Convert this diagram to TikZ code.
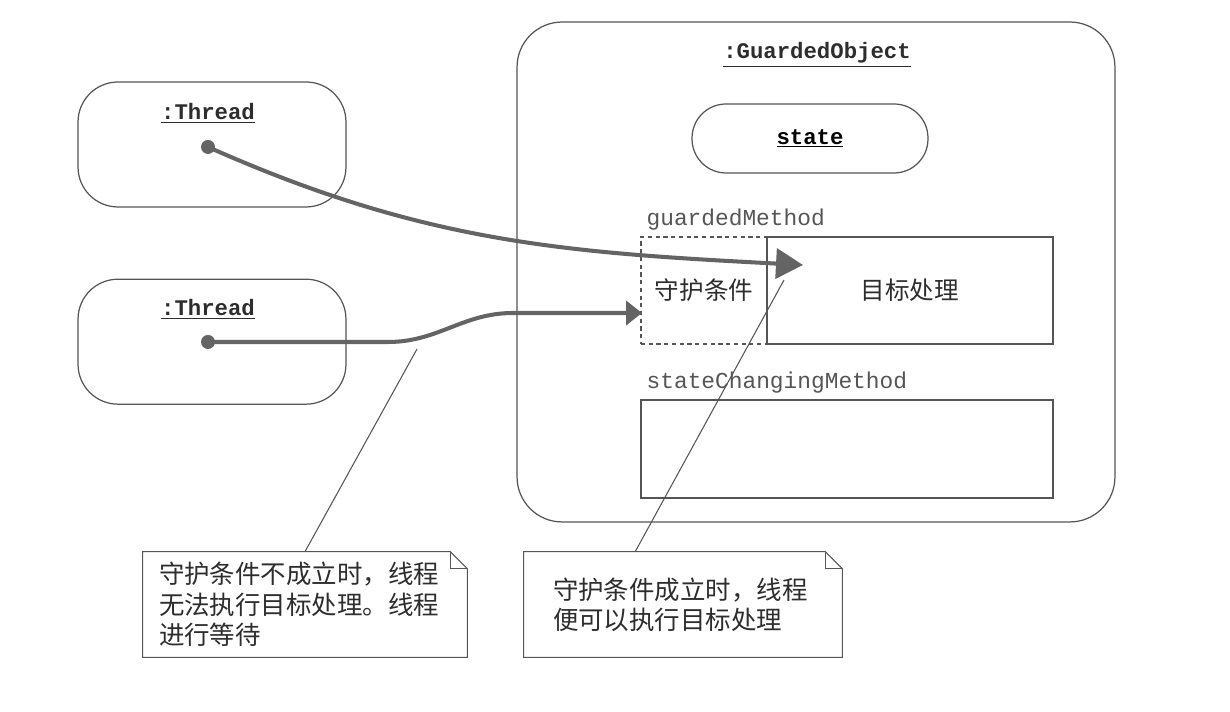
\documentclass[tikz,border=0pt]{standalone}
\usepackage{fontspec}
\setmonofont{Liberation Mono}
\newfontfamily\cjkfont{Noto Sans CJK SC}
\usepackage{tikz}
\usetikzlibrary{arrows.meta, positioning, calc}
\definecolor{linegray}{RGB}{85,85,85}
\definecolor{arrowgray}{RGB}{100,100,100}
\definecolor{textgray}{RGB}{45,45,45}
\newcommand{\namefont}{\ttfamily\bfseries\fontsize{12.7}{15}\selectfont}
\newcommand{\methodfont}{\ttfamily\fontsize{13}{15}\selectfont}
\newcommand{\cjklabelfont}{\cjkfont\fontsize{14}{16}\selectfont}
\newcommand{\cjknotefont}{\cjkfont\fontsize{14.5}{17.2}\selectfont}
\tikzstyle{object} = [rectangle, rounded corners=0.8cm, minimum width=5.36cm, minimum height=2.5cm, draw=linegray, line width=0.7pt]
\tikzstyle{objname} = [font=\namefont, text=textgray]
\tikzstyle{method} = [rectangle, draw=linegray, line width=0.7pt, font=\cjklabelfont, text=textgray]
\tikzstyle{guard} = [method, dash pattern=on 2.4pt off 2pt]
\tikzstyle{methodname} = [font=\methodfont, text=linegray]
\tikzstyle{notebox} = [rectangle, minimum height=2.1cm, align=left, font=\cjknotefont, text=textgray]
\tikzstyle{dot} = [circle, fill=arrowgray, inner sep=0pt, minimum size=0.28cm]
\tikzstyle{arrow} = [line width=2.3pt, draw=arrowgray, -{Triangle[length=0.54cm, width=0.6cm]}]
\tikzstyle{leader} = [draw=linegray, line width=0.6pt]

\begin{document}
\begin{tikzpicture}[x=0.02cm, y=0.02cm]
    \useasboundingbox (0,0) rectangle (1230,712);

    % Threads
    \node (t1) [object] at (212,567.5) {};
    \node (t2) [object, below=1.42cm of t1] {};
    \node (t1name) [objname] at (208,599) {\underline{:Thread}};
    \node (t2name) [objname] at (208,403) {\underline{:Thread}};
    \node (t1dot) [dot] at (208,565) {};
    \node (t2dot) [dot] at (208,370) {};

    % Guarded object
    \node (obj) [object, rounded corners=0.9cm, minimum width=11.96cm, minimum height=10cm] at (816,440) {};
    \node (objname) [objname] at (817,657) {\underline{:GuardedObject}};
    \node (state) [object, font=\namefont, rounded corners=0.68cm, minimum width=4.72cm, minimum height=1.38cm] at (810,573.5) {\underline{state}};

    % guardedMethod
    \node (guard) [guard, minimum width=2.52cm, minimum height=2.14cm] at (704,421.5) {守护条件};
    \node (target) [method, right=-0.7pt of guard, minimum width=5.72cm, minimum height=2.14cm] {目标处理};
    \node (gmname) [methodname, above right=0pt of guard.north west] {guardedMethod};

    % stateChangingMethod
    \node (scm) [method, minimum width=8.24cm, minimum height=1.96cm] at (847,263) {};
    \node (scmname) [methodname, above right=0pt of scm.north west] {stateChangingMethod};

    % Notes
    \node (note1) [notebox, text width=5.84cm, inner xsep=0.32cm] at (305,107.5) {守护条件不成立时，线程\\无法执行目标处理。线程\\进行等待};
    \node (note2) [notebox, text width=5.2cm, inner xsep=0.58cm] at (683,107.5) {守护条件成立时，线程\\便可以执行目标处理};
    \foreach \n in {note1, note2} {
        \draw [leader] (\n.south west) -- (\n.north west) -- ($(\n.north east)+(-17,0)$) -- ($(\n.north east)+(0,-17)$) -- (\n.south east) -- cycle;
        \draw [leader] ($(\n.north east)+(-17,0)$) |- ($(\n.north east)+(0,-17)$);
    }

    % Arrows
    \coordinate (hit1) at (803,447);
    \coordinate (hit2) at (642,399);
    \draw [arrow] (t1dot.center) to[out=-24, in=177] (hit1);
    \draw [arrow, -{Triangle[length=0.32cm, width=0.48cm]}] (t2dot.center) -- ++(180,0) to[out=0, in=180] ++(125,29) -- (hit2);

    % Leader lines
    \coordinate (lead1) at (417,363);
    \coordinate (lead2) at (784,432);
    \draw [leader] (lead1) -- (note1.north);
    \draw [leader] (lead2) -- ($(note2.north west)!0.35!(note2.north east)$);
\end{tikzpicture}
\end{document}
